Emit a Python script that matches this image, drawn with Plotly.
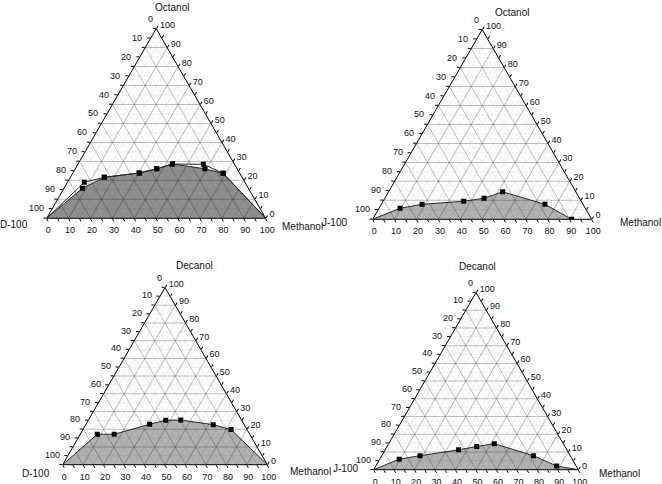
import math
import plotly.graph_objects as go

W, H = 662, 484

# ---------------- data (mass %) ----------------
tick_values = list(range(0, 101, 5))
label_values = list(range(0, 101, 10))

# Panel 1: D-100 / Octanol / Methanol (two curves)
p1_surfactant = "D-100"
p1_alcohol_name = "Octanol"
p1_methanol_a = [8.4, 15.5, 30.3, 37.2, 43.1, 59.2, 68.7]
p1_alcohol_a = [15.8, 21.6, 23.9, 26.1, 28.6, 26.1, 23.7]
p1_methanol_b = [7.7, 15.5, 30.3, 37.2, 43.1, 57.3, 68.7]
p1_alcohol_b = [19.0, 21.6, 23.9, 26.1, 28.6, 28.5, 23.7]
p1_curve_end = 100

# Panel 2: J-100 / Octanol / Methanol
p2_surfactant = "J-100"
p2_alcohol_name = "Octanol"
p2_methanol = [9.6, 18.6, 36.8, 45.3, 52.1, 74.7, 90.9]
p2_alcohol = [5.8, 7.9, 9.5, 11.1, 14.5, 7.9, 0.0]
p2_curve_end = None

# Panel 3: D-100 / Decanol / Methanol
p3_surfactant = "D-100"
p3_alcohol_name = "Decanol"
p3_methanol = [8.3, 16.6, 31.1, 37.8, 45.1, 62.3, 72.4]
p3_alcohol = [17.2, 17.2, 22.8, 25.1, 25.2, 22.6, 19.8]
p3_curve_end = 100

# Panel 4: J-100 / Decanol / Methanol
p4_surfactant = "J-100"
p4_alcohol_name = "Decanol"
p4_methanol = [9.5, 18.7, 35.9, 43.8, 51.6, 74.1, 88.4]
p4_alcohol = [5.9, 7.9, 11.2, 13.1, 14.7, 7.9, 2.1]
p4_curve_end = 100

# ---------------- layout geometry (pixels) ----------------
# triangle (left x, right x, bottom y)
geom = [
    (46.7, 265.7, 218.3),
    (372.7, 591.7, 219.3),
    (62.7, 267.3, 464.7),
    (373.7, 578.3, 469.7),
]
# title centres (top title, left title, right title) in pixels
title_pos = [
    ((172, 7), (14, 224), (302, 226)),
    ((512, 13), (334, 222), (640, 222)),
    ((194, 265), (36, 473), (310, 471)),
    ((477, 266), (345, 468), (619, 473)),
]
# left-edge tick label offset from its tick (pixels)
LABEL_GAP_X = 2.0
LABEL_RISE = 10.0

FONT = "Arial, Liberation Sans, sans-serif"
TICKFONT = dict(family=FONT, size=9, color="#111")


def domain(x0, x1, yb):
    h = (x1 - x0) * math.sqrt(3) / 2
    return dict(x=[x0 / W, x1 / W], y=[1 - yb / H, 1 - (yb - h) / H])


def label_text(values):
    return [str(100 - v) if v % 10 == 0 else "" for v in values]


def base_axis(show_labels=True):
    return dict(
        tickmode="array",
        tickvals=tick_values,
        ticktext=label_text(tick_values),
        showticklabels=show_labels,
        ticks="outside",
        ticklen=3,
        tickwidth=1,
        tickcolor="#000",
        showline=True,
        linecolor="#000",
        linewidth=1,
        showgrid=True,
        gridcolor="#ededed",
        gridwidth=1,
        layer="below traces",
        tickfont=TICKFONT,
        title=dict(text=""),
    )


def over_axis():
    return dict(
        tickmode="linear",
        tick0=0,
        dtick=10,
        showticklabels=False,
        ticks="",
        showline=False,
        showgrid=True,
        gridcolor="rgba(0,0,0,0.2)",
        gridwidth=1,
        title=dict(text=""),
    )


panels = [
    (p1_surfactant, p1_alcohol_name),
    (p2_surfactant, p2_alcohol_name),
    (p3_surfactant, p3_alcohol_name),
    (p4_surfactant, p4_alcohol_name),
]

layout = dict(
    width=W, height=H,
    margin=dict(l=0, r=0, t=0, b=0),
    paper_bgcolor="white",
    showlegend=False,
)

annotations = []
for i, (surf, alc) in enumerate(panels):
    x0, x1, yb = geom[i]
    d = domain(x0, x1, yb)
    layout["ternary" if i == 0 else f"ternary{i + 1}"] = dict(
        domain=d, sum=100, bgcolor="white",
        aaxis=base_axis(False), baxis=base_axis(), caxis=base_axis(),
    )
    layout[f"ternary{i + 5}"] = dict(
        domain=d, sum=100, bgcolor="rgba(0,0,0,0)",
        aaxis=over_axis(), baxis=over_axis(), caxis=over_axis(),
    )
    for text, (px, py) in zip((alc, surf, "Methanol"), title_pos[i]):
        annotations.append(dict(
            text=text, x=px / W, y=1 - py / H, xref="paper", yref="paper",
            xanchor="center", yanchor="middle", showarrow=False,
            font=dict(family=FONT, size=10, color="#111"),
        ))
    # left-edge (surfactant) tick labels, set up-left of each tick
    wt = x1 - x0
    ht = wt * math.sqrt(3) / 2
    apex_x, apex_y = (x0 + x1) / 2, yb - ht
    for v in label_values:
        tx = apex_x - v / 100 * wt / 2
        ty = apex_y + v / 100 * ht
        annotations.append(dict(
            text=str(v), x=(tx - LABEL_GAP_X) / W, y=1 - (ty - LABEL_RISE) / H,
            xref="paper", yref="paper", xanchor="right", yanchor="middle",
            showarrow=False, borderpad=0, font=TICKFONT,
        ))
layout["annotations"] = annotations

fig = go.Figure()


def add_curve(sub, meth, alcv, end, fillcolor):
    a = [0] + list(alcv)
    c = [0] + list(meth)
    if end is not None:
        a.append(0)
        c.append(end)
    b = [100 - ai - ci for ai, ci in zip(a, c)]
    fig.add_trace(go.Scatterternary(
        subplot=sub, a=a, b=b, c=c, mode="lines",
        fill="toself" if fillcolor else None,
        fillcolor=fillcolor,
        line=dict(color="#2a2a2a", width=1),
        hoverinfo="skip",
    ))
    bm = [100 - ai - ci for ai, ci in zip(alcv, meth)]
    fig.add_trace(go.Scatterternary(
        subplot=sub, a=list(alcv), b=bm, c=list(meth), mode="markers",
        marker=dict(symbol="square", size=5, color="#000"),
    ))


add_curve("ternary", p1_methanol_a, p1_alcohol_a, p1_curve_end, "rgba(0,0,0,0.44)")
add_curve("ternary", p1_methanol_b, p1_alcohol_b, p1_curve_end, None)
add_curve("ternary2", p2_methanol, p2_alcohol, p2_curve_end, "rgba(0,0,0,0.30)")
add_curve("ternary3", p3_methanol, p3_alcohol, p3_curve_end, "rgba(0,0,0,0.30)")
add_curve("ternary4", p4_methanol, p4_alcohol, p4_curve_end, "rgba(0,0,0,0.30)")

# empty traces so that the overlay (major grid) subplots are drawn
for k in range(5, 9):
    fig.add_trace(go.Scatterternary(subplot=f"ternary{k}", a=[], b=[], c=[],
                                    mode="markers", hoverinfo="skip"))

fig.update_layout(**layout)
fig.write_html("out.html", config={"displayModeBar": False},
               post_script="document.body.style.margin='0';")
